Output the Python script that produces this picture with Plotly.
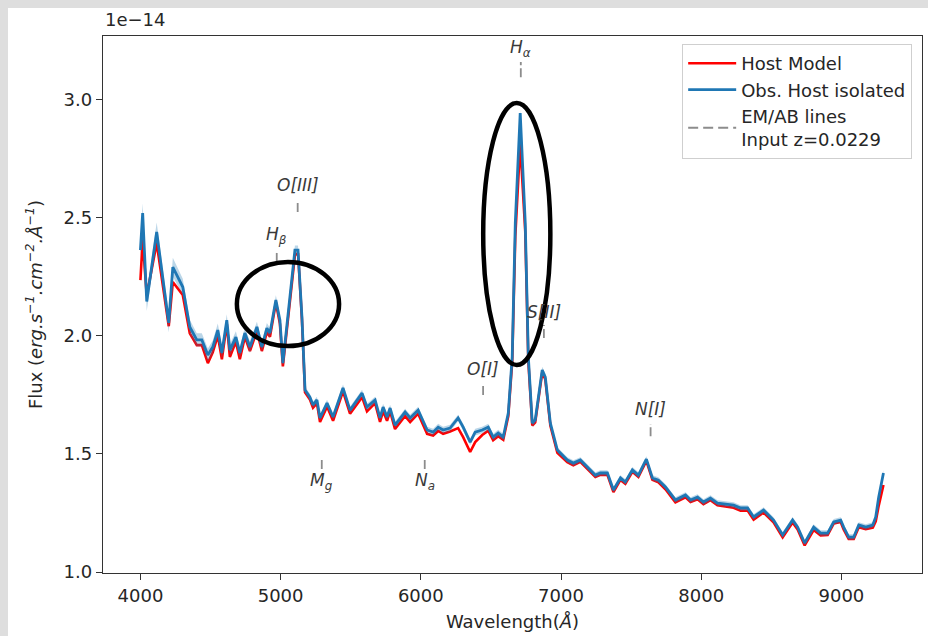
import plotly.graph_objects as go

# ---------------- data (flux in units of 1e-14) ----------------
wavelength = [4000, 4016, 4045, 4116, 4202, 4231, 4302, 4352, 4402, 4438, 4481, 4516, 4552, 4581,
              4616, 4638, 4681, 4709, 4745, 4781, 4831, 4866, 4902, 4924, 4966, 4995, 5016, 5052,
              5102, 5124, 5152, 5174, 5209, 5231, 5259, 5281, 5331, 5374, 5445, 5495, 5581, 5616,
              5674, 5709, 5731, 5759, 5781, 5816, 5888, 5924, 5981, 6045, 6088, 6124, 6159, 6209,
              6266, 6302, 6352, 6388, 6438, 6481, 6516, 6552, 6588, 6624, 6652, 6674, 6709, 6745,
              6767, 6795, 6816, 6866, 6888, 6924, 6974, 7045, 7088, 7138, 7188, 7245, 7281, 7331,
              7374, 7424, 7459, 7509, 7552, 7609, 7652, 7695, 7745, 7816, 7888, 7924, 7974, 8016,
              8066, 8116, 8231, 8281, 8331, 8374, 8445, 8516, 8581, 8652, 8688, 8738, 8802, 8852,
              8902, 8945, 8995, 9016, 9052, 9088, 9124, 9174, 9224, 9245, 9266, 9300]

obs_flux = [2.362, 2.519, 2.145, 2.439, 2.054, 2.290, 2.206, 2.037, 1.982, 1.982, 1.918, 1.952,
            2.024, 1.927, 2.066, 1.939, 1.994, 1.927, 2.011, 1.952, 2.037, 1.952, 2.032, 2.011,
            2.151, 2.066, 1.884, 2.079, 2.362, 2.362, 2.079, 1.770, 1.740, 1.707, 1.728, 1.652,
            1.715, 1.656, 1.779, 1.685, 1.757, 1.698, 1.728, 1.652, 1.698, 1.656, 1.694, 1.622,
            1.677, 1.652, 1.685, 1.601, 1.592, 1.613, 1.601, 1.609, 1.652, 1.613, 1.550, 1.592,
            1.601, 1.613, 1.571, 1.588, 1.571, 1.673, 1.910, 2.477, 2.942, 2.477, 1.910, 1.630,
            1.643, 1.855, 1.825, 1.630, 1.516, 1.474, 1.461, 1.474, 1.444, 1.410, 1.419, 1.419,
            1.347, 1.398, 1.381, 1.432, 1.410, 1.478, 1.398, 1.389, 1.360, 1.305, 1.326, 1.305,
            1.317, 1.296, 1.313, 1.292, 1.283, 1.271, 1.271, 1.233, 1.262, 1.220, 1.157, 1.220,
            1.190, 1.123, 1.190, 1.165, 1.165, 1.212, 1.220, 1.190, 1.148, 1.148, 1.199, 1.190,
            1.199, 1.233, 1.317, 1.419]

obs_err = [0.040, 0.040, 0.040, 0.040, 0.040, 0.040, 0.035, 0.030, 0.028, 0.028, 0.028, 0.028,
           0.028, 0.028, 0.025, 0.025, 0.025, 0.025, 0.025, 0.025, 0.022, 0.022, 0.022, 0.022,
           0.020, 0.020, 0.020, 0.020, 0.020, 0.020, 0.020, 0.014, 0.014, 0.014, 0.014, 0.014,
           0.014, 0.014, 0.014, 0.014, 0.014, 0.014, 0.014, 0.014, 0.014, 0.014, 0.014, 0.014,
           0.014, 0.014, 0.014, 0.014, 0.014, 0.014, 0.014, 0.014, 0.014, 0.014, 0.014, 0.014,
           0.014, 0.014, 0.014, 0.014, 0.014, 0.014, 0.014, 0.014, 0.014, 0.014, 0.014, 0.014,
           0.014, 0.014, 0.014, 0.014, 0.012, 0.012, 0.012, 0.012, 0.012, 0.012, 0.012, 0.012,
           0.012, 0.012, 0.012, 0.012, 0.012, 0.012, 0.012, 0.012, 0.012, 0.012, 0.012, 0.012,
           0.012, 0.012, 0.012, 0.012, 0.012, 0.012, 0.012, 0.012, 0.012, 0.012, 0.012, 0.012,
           0.012, 0.012, 0.012, 0.012, 0.012, 0.012, 0.012, 0.012, 0.012, 0.012, 0.012, 0.012,
           0.012, 0.012, 0.012, 0.012]

model_flux = [2.235, 2.405, 2.170, 2.392, 2.040, 2.227, 2.172, 2.010, 1.960, 1.960, 1.884, 1.930,
              2.000, 1.900, 2.050, 1.910, 1.975, 1.900, 1.995, 1.935, 2.020, 1.935, 2.015, 1.995,
              2.140, 2.050, 1.870, 2.060, 2.340, 2.350, 2.070, 1.760, 1.730, 1.695, 1.715, 1.635,
              1.700, 1.640, 1.765, 1.670, 1.740, 1.680, 1.715, 1.635, 1.680, 1.640, 1.680, 1.605,
              1.660, 1.635, 1.670, 1.585, 1.578, 1.597, 1.585, 1.595, 1.609, 1.571, 1.508, 1.550,
              1.580, 1.598, 1.558, 1.575, 1.560, 1.660, 1.890, 2.420, 2.815, 2.440, 1.890, 1.620,
              1.633, 1.845, 1.815, 1.620, 1.505, 1.465, 1.452, 1.466, 1.436, 1.402, 1.411, 1.411,
              1.338, 1.390, 1.373, 1.424, 1.402, 1.470, 1.390, 1.380, 1.350, 1.295, 1.316, 1.296,
              1.308, 1.287, 1.304, 1.283, 1.272, 1.260, 1.260, 1.222, 1.252, 1.210, 1.147, 1.210,
              1.180, 1.113, 1.178, 1.155, 1.157, 1.205, 1.212, 1.180, 1.140, 1.140, 1.190, 1.181,
              1.188, 1.215, 1.280, 1.368]

redshift = 0.0229
line_names = ["H<sub>β</sub>", "O[III]", "M<sub>g</sub>", "N<sub>a</sub>", "O[I]",
              "H<sub>α</sub>", "S[II]", "N[I]"]
line_rest = [4861, 5007, 5175, 5893, 6300, 6563, 6724, 7468]
tick_lo = [2.312, 2.523, 1.436, 1.436, 1.749, 3.094, 1.990, 1.575]
tick_hi = [2.362, 2.574, 1.482, 1.482, 1.791, 3.158, 2.045, 1.626]
label_y = [2.426, 2.637, 1.385, 1.385, 1.859, 3.217, 2.100, 1.690]

x_ticks = [4000, 5000, 6000, 7000, 8000, 9000]
y_ticks = [1.0, 1.5, 2.0, 2.5, 3.0]

FONT = "DejaVu Sans"
TXT = "#262626"
FS = 18

fig = go.Figure()

fig.add_trace(go.Scatter(x=wavelength, y=model_flux, mode="lines", name="Host Model",
                         line=dict(color="#ff0000", width=2.6)))
upper = [f + e for f, e in zip(obs_flux, obs_err)]
lower = [f - e for f, e in zip(obs_flux, obs_err)]
fig.add_trace(go.Scatter(x=wavelength, y=upper, mode="lines", line=dict(width=0),
                         showlegend=False, hoverinfo="skip"))
fig.add_trace(go.Scatter(x=wavelength, y=lower, mode="lines", line=dict(width=0),
                         fill="tonexty", fillcolor="rgba(31,119,180,0.3)",
                         showlegend=False, hoverinfo="skip"))
fig.add_trace(go.Scatter(x=wavelength, y=obs_flux, mode="lines", name="Obs. Host isolated",
                         line=dict(color="#1f77b4", width=2.8)))

# emission / absorption line markers
obs_wl = [w * (1 + redshift) for w in line_rest]
sx, sy = [], []
for w, lo, hi in zip(obs_wl, tick_lo, tick_hi):
    sx += [w, w, None]
    sy += [lo, hi, None]
fig.add_trace(go.Scatter(x=sx, y=sy, mode="lines", showlegend=False, hoverinfo="skip",
                         line=dict(color="#8c8c8c", width=1.8, dash="9px,3px")))
fig.add_trace(go.Scatter(x=[None], y=[None], mode="lines",
                         name="EM/AB lines<br>Input z=0.0229",
                         line=dict(color="#8c8c8c", width=1.8, dash="10px,5px")))

for name, w, ly in zip(line_names, obs_wl, label_y):
    fig.add_annotation(x=w, y=ly, text="<i>" + name + "</i>", showarrow=False,
                       xanchor="center", yanchor="middle",
                       font=dict(family=FONT, size=17, color="#3a3a3a"))

# hand-drawn highlight ellipses
fig.add_shape(type="circle", xref="x", yref="y", x0=4688, x1=5417, y0=1.956, y1=2.312,
              line=dict(color="black", width=4.5))
fig.add_shape(type="circle", xref="x", yref="y", x0=6445, x1=6924, y0=1.876, y1=2.984,
              line=dict(color="black", width=4.5))

# page border: grey strips at top and left
fig.add_shape(type="rect", xref="paper", yref="paper", x0=-0.2, x1=1.2, y0=1.0521, y1=1.2,
              fillcolor="#dedede", line=dict(width=0), layer="below")
fig.add_shape(type="rect", xref="paper", yref="paper", x0=-0.2, x1=-0.1160, y0=-0.3, y1=1.2,
              fillcolor="#dedede", line=dict(width=0), layer="below")

fig.add_annotation(xref="paper", yref="paper", x=0, y=1.03, text="1e−14", showarrow=False,
                   xanchor="left", yanchor="middle", font=dict(family=FONT, size=FS, color=TXT))

axis_common = dict(showline=True, mirror=True, linecolor="#333333", linewidth=1.3,
                   ticks="outside", ticklen=6, tickwidth=1.3, tickcolor="#333333",
                   showgrid=False, zeroline=False,
                   tickfont=dict(family=FONT, size=FS, color=TXT))

fig.update_layout(
    width=928, height=636,
    margin=dict(l=103, r=6, t=36, b=63),
    paper_bgcolor="white", plot_bgcolor="white",
    font=dict(family=FONT, size=FS, color=TXT),
    xaxis=dict(range=[3733, 9575], tickvals=x_ticks,
               title=dict(text="Wavelength(<i>Å</i>)", standoff=10,
                          font=dict(family=FONT, size=FS, color=TXT)),
               **axis_common),
    yaxis=dict(range=[0.996, 3.268], tickvals=y_ticks, tickformat=".1f",
               title=dict(text="Flux (<i>erg.s<sup>−1</sup>.cm<sup>−2</sup>.Å<sup>−1</sup></i>)",
                          standoff=16, font=dict(family=FONT, size=FS, color=TXT)),
               **axis_common),
    legend=dict(x=0.988, xanchor="right", y=0.985, yanchor="top", traceorder="normal",
                bgcolor="white", bordercolor="#cfcfcf", borderwidth=1, itemwidth=48,
                font=dict(family=FONT, size=FS, color=TXT)),
    showlegend=True,
)

fig.write_html("out.html")
